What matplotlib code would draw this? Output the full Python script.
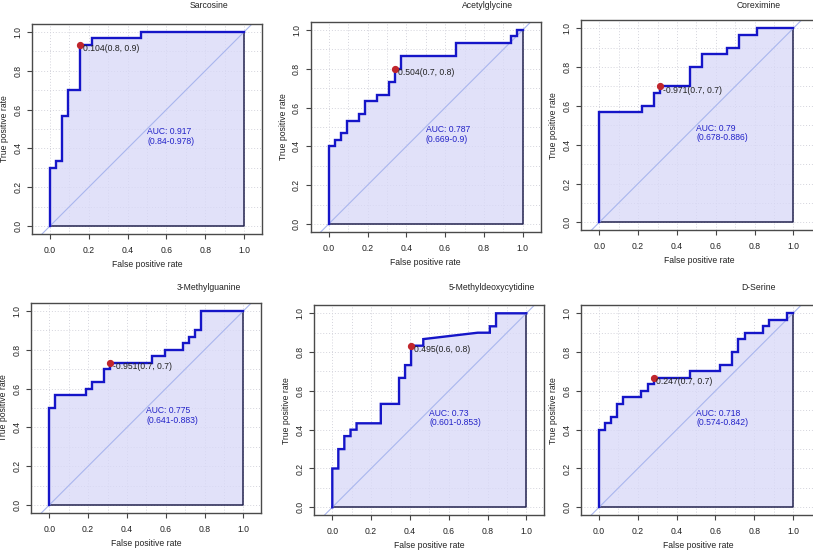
import matplotlib
matplotlib.use('Agg')
import matplotlib.pyplot as plt

plt.rcParams['font.family'] = ['Liberation Sans', 'DejaVu Sans']

# roc curve vertices (false positive rate, true positive rate)
names = ['Sarcosine', 'Acetylglycine', 'Coreximine',
         '3-Methylguanine', '5-Methyldeoxycytidine', 'D-Serine']

fpr_sarcosine = [0, 0, 0.031, 0.031, 0.062, 0.062, 0.094, 0.094, 0.156, 0.156,
                 0.219, 0.219, 0.469, 0.469, 1.0]
tpr_sarcosine = [0, 0.3, 0.3, 0.333, 0.333, 0.567, 0.567, 0.7, 0.7, 0.933,
                 0.933, 0.967, 0.967, 1.0, 1.0]

fpr_acetylglycine = [0, 0, 0.031, 0.031, 0.062, 0.062, 0.094, 0.094, 0.156, 0.156,
                     0.188, 0.188, 0.25, 0.25, 0.312, 0.312, 0.344, 0.344, 0.375, 0.375,
                     0.656, 0.656, 0.938, 0.938, 0.969, 0.969, 1.0]
tpr_acetylglycine = [0, 0.4, 0.4, 0.433, 0.433, 0.467, 0.467, 0.533, 0.533, 0.567,
                     0.567, 0.633, 0.633, 0.667, 0.667, 0.733, 0.733, 0.8, 0.8, 0.867,
                     0.867, 0.933, 0.933, 0.967, 0.967, 1.0, 1.0]

fpr_coreximine = [0, 0, 0.219, 0.219, 0.281, 0.281, 0.312, 0.312, 0.469, 0.469,
                  0.531, 0.531, 0.656, 0.656, 0.719, 0.719, 0.812, 0.812, 1.0]
tpr_coreximine = [0, 0.567, 0.567, 0.6, 0.6, 0.667, 0.667, 0.7, 0.7, 0.8,
                  0.8, 0.867, 0.867, 0.9, 0.9, 0.967, 0.967, 1.0, 1.0]

fpr_methylguanine = [0, 0, 0.031, 0.031, 0.188, 0.188, 0.219, 0.219, 0.281, 0.281,
                     0.312, 0.312, 0.531, 0.531, 0.594, 0.594, 0.688, 0.688, 0.719, 0.719,
                     0.75, 0.75, 0.781, 0.781, 1.0]
tpr_methylguanine = [0, 0.5, 0.5, 0.567, 0.567, 0.6, 0.6, 0.633, 0.633, 0.7,
                     0.7, 0.733, 0.733, 0.767, 0.767, 0.8, 0.8, 0.833, 0.833, 0.867,
                     0.867, 0.9, 0.9, 1.0, 1.0]

fpr_methyldeoxycytidine = [0, 0, 0.031, 0.031, 0.062, 0.062, 0.094, 0.094, 0.125, 0.125,
                           0.25, 0.25, 0.344, 0.344, 0.375, 0.375, 0.406, 0.406, 0.469, 0.469,
                           0.75, 0.812, 0.812, 0.844, 0.844, 1.0]
tpr_methyldeoxycytidine = [0, 0.2, 0.2, 0.3, 0.3, 0.367, 0.367, 0.4, 0.4, 0.433,
                           0.433, 0.533, 0.533, 0.667, 0.667, 0.733, 0.733, 0.833, 0.833, 0.867,
                           0.9, 0.9, 0.933, 0.933, 1.0, 1.0]

fpr_serine = [0, 0, 0.031, 0.031, 0.062, 0.062, 0.094, 0.094, 0.125, 0.125,
              0.219, 0.219, 0.25, 0.25, 0.281, 0.281, 0.469, 0.469, 0.625, 0.625,
              0.688, 0.688, 0.719, 0.719, 0.75, 0.75, 0.844, 0.844, 0.875, 0.875,
              0.969, 0.969, 1.0]
tpr_serine = [0, 0.4, 0.4, 0.433, 0.433, 0.467, 0.467, 0.533, 0.533, 0.567,
              0.567, 0.6, 0.6, 0.633, 0.633, 0.667, 0.667, 0.7, 0.7, 0.733,
              0.733, 0.8, 0.8, 0.867, 0.867, 0.9, 0.9, 0.933, 0.933, 0.967,
              0.967, 1.0, 1.0]

# best threshold points and labels
best_fpr = [0.156, 0.344, 0.312, 0.312, 0.406, 0.281]
best_tpr = [0.933, 0.8, 0.7, 0.733, 0.833, 0.667]
best_labels = ['0.104(0.8, 0.9)', '0.504(0.7, 0.8)', '-0.971(0.7, 0.7)',
               '-0.951(0.7, 0.7)', '0.495(0.6, 0.8)', '0.247(0.7, 0.7)']

auc_values = ['0.917', '0.787', '0.79', '0.775', '0.73', '0.718']
auc_ci = ['0.84-0.978', '0.669-0.9', '0.678-0.886', '0.641-0.883', '0.601-0.853', '0.574-0.842']

fprs = [fpr_sarcosine, fpr_acetylglycine, fpr_coreximine,
        fpr_methylguanine, fpr_methyldeoxycytidine, fpr_serine]
tprs = [tpr_sarcosine, tpr_acetylglycine, tpr_coreximine,
        tpr_methylguanine, tpr_methyldeoxycytidine, tpr_serine]

# pixel position of data origin (0,0) for every panel
origins = [(50, 226), (328.7, 224), (599.3, 222.3),
           (49.3, 505), (332.3, 507.3), (599, 507.3)]
# title height in pixels for each row
title_y = [6, 6, 6, 288, 288, 288]

W, H = 813, 551
scale = 194
xlo, xhi = -0.093, 1.093
ylo, yhi = -0.041, 1.041

fig = plt.figure(figsize=(W / 100, H / 100), dpi=100)

txt_col = '#222222'
for i in range(6):
    x0, y0 = origins[i]
    # right column runs past the picture edge
    right = xhi if i % 3 != 2 else 1.12
    left = x0 + xlo * scale
    top = y0 - yhi * scale
    w = (right - xlo) * scale
    h = (yhi - ylo) * scale
    ax = fig.add_axes([left / W, 1 - (top + h) / H, w / W, h / H])
    ax.set_xlim(xlo, right)
    ax.set_ylim(ylo, yhi)

    # dotted grid every 0.1
    for g in [k / 10 for k in range(11)]:
        ax.axvline(g, color='#d4d4dc', lw=0.7, ls=(0, (1, 2)), zorder=0)
        ax.axhline(g, color='#d4d4dc', lw=0.7, ls=(0, (1, 2)), zorder=0)

    # auc polygon
    px = fprs[i] + [1.0, 0.0]
    py = tprs[i] + [0.0, 0.0]
    ax.fill(px, py, facecolor='#d8d8f8', alpha=0.75, edgecolor='none', zorder=1)
    ax.plot([1.0, 1.0, 0.0], [1.0, 0.0, 0.0], color='#23234f', lw=1.1, zorder=2)

    # chance diagonal
    ax.plot([-0.2, 1.2], [-0.2, 1.2], color='#a9b6ee', lw=0.8, zorder=2)

    # roc curve
    ax.plot(fprs[i], tprs[i], color='#1515c8', lw=1.7, zorder=3, solid_joinstyle='miter')

    # best threshold
    ax.plot(best_fpr[i], best_tpr[i], 'o', color='#c0262c', ms=4.2, zorder=4)
    ax.annotate(best_labels[i], (best_fpr[i], best_tpr[i]), xytext=(2, 0.5),
                textcoords='offset points', ha='left', va='top', fontsize=6.2,
                color=txt_col, zorder=5)

    # auc text
    ax.text(0.5, 0.485, 'AUC: ' + auc_values[i], color='#2323c8', fontsize=6.2,
            ha='left', va='center', zorder=5)
    ax.text(0.5, 0.435, '(' + auc_ci[i] + ')', color='#2323c8', fontsize=6.2,
            ha='left', va='center', zorder=5)

    # title
    fig.text((x0 + 0.82 * scale) / W, 1 - title_y[i] / H, names[i],
             ha='center', va='center', fontsize=6.2, color=txt_col)

    ax.set_xticks([0, 0.2, 0.4, 0.6, 0.8, 1.0])
    ax.set_yticks([0, 0.2, 0.4, 0.6, 0.8, 1.0])
    ax.set_xticklabels(['0.0', '0.2', '0.4', '0.6', '0.8', '1.0'])
    ax.set_yticklabels(['0.0', '0.2', '0.4', '0.6', '0.8', '1.0'],
                       rotation=90, va='center')
    ax.tick_params(direction='out', length=3.5, width=0.8, labelsize=6.2,
                   colors='#444444', labelcolor=txt_col)
    ax.tick_params(axis='x', pad=5)
    ax.tick_params(axis='y', pad=3.5)
    ax.set_xlabel('False positive rate', fontsize=6.2, color=txt_col, labelpad=3.5)
    ax.set_ylabel('True positive rate', fontsize=6.2, color=txt_col, labelpad=3)
    for sp in ax.spines.values():
        sp.set_color('#4a4a4a')
        sp.set_linewidth(1.0)

fig.savefig('out.png', dpi=100)
